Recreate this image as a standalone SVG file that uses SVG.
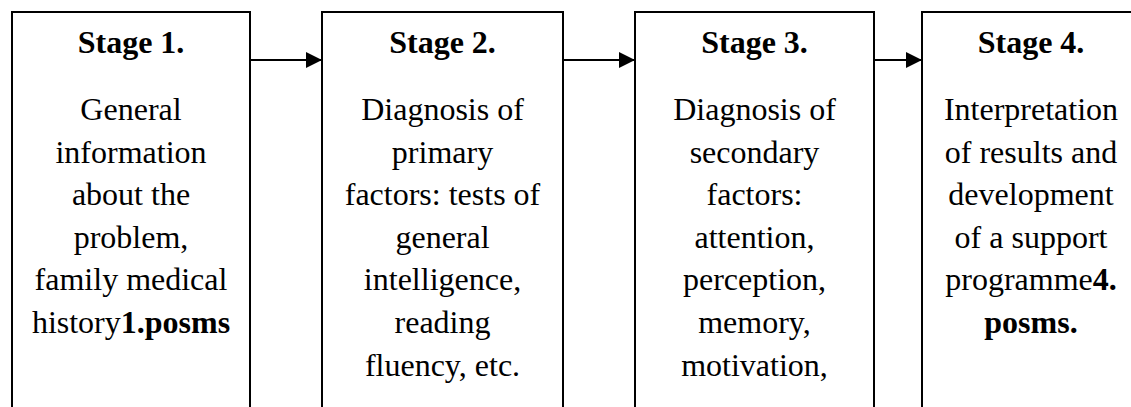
<svg xmlns="http://www.w3.org/2000/svg" width="1131" height="407" viewBox="0 0 1131 407">
  <style>
    .box { fill: #ffffff; stroke: #000000; stroke-width: 2; }
    .link { fill: none; stroke: #000000; stroke-width: 2; }
    .lbl { font-family: 'Liberation Serif', 'DejaVu Serif', serif; font-size: 32px; fill: #000000; text-anchor: middle; }
    .title, .b { font-weight: bold; }
  </style>
  <defs>
    <marker id="arrow" viewBox="0 0 16 16" refX="16" refY="8" markerWidth="16" markerHeight="16" markerUnits="userSpaceOnUse" orient="auto">
      <path d="M0,0 L16,8 L0,16 Z" fill="#000000"/>
    </marker>
  </defs>
  <rect width="1131" height="407" fill="#ffffff"/>

  <!-- stage boxes run past the bottom edge (open at the bottom) -->
  <g id="stage1" class="lbl" font-family="Liberation Serif, serif">
    <rect class="box" x="12" y="12" width="238" height="420"/>
    <text x="131" y="53" class="title">Stage 1.</text>
    <text x="131" y="120">General</text>
    <text x="131" y="162.6">information</text>
    <text x="131" y="205.2">about the</text>
    <text x="131" y="247.8">problem,</text>
    <text x="131" y="290.4">family medical</text>
    <text x="131" y="333">history<tspan class="b">1.posms</tspan></text>
  </g>

  <g id="stage2" class="lbl" font-family="Liberation Serif, serif">
    <rect class="box" x="322" y="12" width="241" height="420"/>
    <text x="442.5" y="53" class="title">Stage 2.</text>
    <text x="442.5" y="120">Diagnosis of</text>
    <text x="442.5" y="162.6">primary</text>
    <text x="442.5" y="205.2">factors: tests of</text>
    <text x="442.5" y="247.8">general</text>
    <text x="442.5" y="290.4">intelligence,</text>
    <text x="442.5" y="333">reading</text>
    <text x="442.5" y="375.6">fluency, etc.</text>
  </g>

  <g id="stage3" class="lbl" font-family="Liberation Serif, serif">
    <rect class="box" x="635" y="12" width="239" height="420"/>
    <text x="754.5" y="53" class="title">Stage 3.</text>
    <text x="754.5" y="120">Diagnosis of</text>
    <text x="754.5" y="162.6">secondary</text>
    <text x="754.5" y="205.2">factors:</text>
    <text x="754.5" y="247.8">attention,</text>
    <text x="754.5" y="290.4">perception,</text>
    <text x="754.5" y="333">memory,</text>
    <text x="754.5" y="375.6">motivation,</text>
  </g>

  <g id="stage4" class="lbl" font-family="Liberation Serif, serif">
    <rect class="box" x="922" y="12" width="240" height="420"/>
    <text x="1031" y="53" class="title">Stage 4.</text>
    <text x="1031" y="120">Interpretation</text>
    <text x="1031" y="162.6">of results and</text>
    <text x="1031" y="205.2">development</text>
    <text x="1031" y="247.8">of a support</text>
    <text x="1031" y="290.4">programme<tspan class="b">4.</tspan></text>
    <text x="1031" y="333" class="b">posms.</text>
  </g>

  <g id="connectors">
    <line class="link" x1="250" y1="60" x2="322" y2="60" marker-end="url(#arrow)"/>
    <line class="link" x1="563" y1="60" x2="635" y2="60" marker-end="url(#arrow)"/>
    <line class="link" x1="874" y1="60" x2="922" y2="60" marker-end="url(#arrow)"/>
  </g>
</svg>
